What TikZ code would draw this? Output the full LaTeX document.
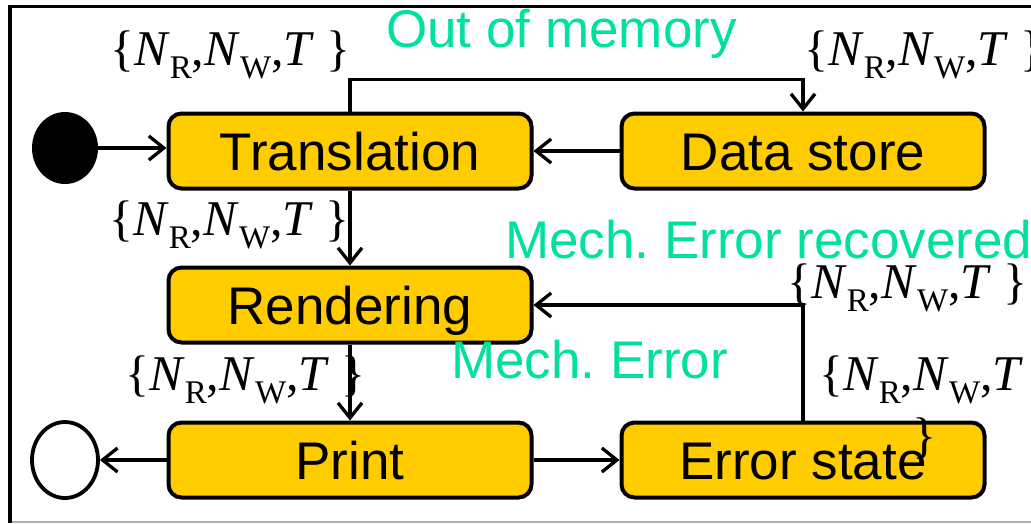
\documentclass[tikz,border=0pt]{standalone}
\usepackage{fontspec}
\usepackage{graphicx}
\setmainfont{Liberation Sans}
\newfontfamily\tms{Liberation Serif}
\usetikzlibrary{arrows.meta,shapes.geometric}
\definecolor{stateyellow}{RGB}{255,204,0}
\definecolor{eventgreen}{RGB}{0,225,160}
\frenchspacing
% guard set {N_R, N_W, T}
\newcommand{\lowsub}[1]{\raisebox{-13pt}{\fontsize{33}{33}\selectfont #1}}
\newcommand{\nwt}{\{\textit{N}\lowsub{R},\textit{N}\lowsub{W},\textit{T}\ }

\begin{document}
\begin{tikzpicture}[x=1pt,y=-1pt,
  state/.style={draw, line width=4pt, fill=stateyellow, rounded corners=13pt,
    minimum width=363pt, minimum height=75pt, inner sep=0pt,
    font=\fontsize{53}{60}\selectfont, text height=38pt, text depth=0pt},
  event/.style={text=eventgreen, font=\fontsize{53}{60}\selectfont,
    anchor=base west, inner sep=0pt},
  guard/.style={font=\tms\fontsize{50}{55}\selectfont, anchor=base west, inner sep=0pt},
  flow/.style={line width=3.3pt, -{Straight Barb[length=15pt,width=24pt]}},
]
\useasboundingbox (0,0) rectangle (1031,523);

% frame
\draw[gray!60, line width=1.5pt] (9,522) -- (1031,522);
\draw[line width=3.5pt] (10,523) -- (10,6.5) -- (1031,6.5);

% states
\node[state] (tr) at (350,151) {Translation};
\node[state] (ds) at (803,151) {Data store};
\node[state] (rd) at (350,305) {Rendering};
\node[state] (pr) at (350,460) {Print};
\node[state] (er) at (803,460) {Error state};

% pseudo states
\node[fill, ellipse, minimum width=66pt, minimum height=72pt, inner sep=0pt] (init) at (65,148) {};
\node[draw, line width=3.8pt, ellipse, minimum width=66pt, minimum height=76pt, inner sep=0pt] (final) at (65,460) {};

% transitions
\draw[flow] (init) -- (init -| tr.west);
\draw[flow] (ds) -- (tr);
\draw[flow] (tr.north) -- ++(0,-32) -| (ds.north);
\draw[flow] (tr) -- (rd);
\draw[flow] (rd) -- (pr);
\draw[flow] (pr) -- (final);
\draw[flow] (pr) -- (er);
\draw[flow] (er.north) |- (rd.east);

% events
\node[event] (oom) at (386,47) {Out of memory};
\node[event] (rec) at (505,258) {Mech. Error recovered};
\node[event] (mech) at (451,378) {Mech. Error};

% guards
\node[guard] (g1) at (110,65) {\nwt\}};
\node[guard] (g2) at (804,65) {\nwt\}};
\node[guard] (g3) at (109,235) {\nwt\}};
\node[guard] (g4) at (125,390) {\nwt\}};
\node[guard] (g5) at (787,298) {\nwt\}};
\node[guard] (g6) at (819,390) {\vtop{\baselineskip=62pt\lineskiplimit=-200pt
  \hbox{\nwt}\hbox{\hspace*{93pt}\}}}};
\end{tikzpicture}
\end{document}
